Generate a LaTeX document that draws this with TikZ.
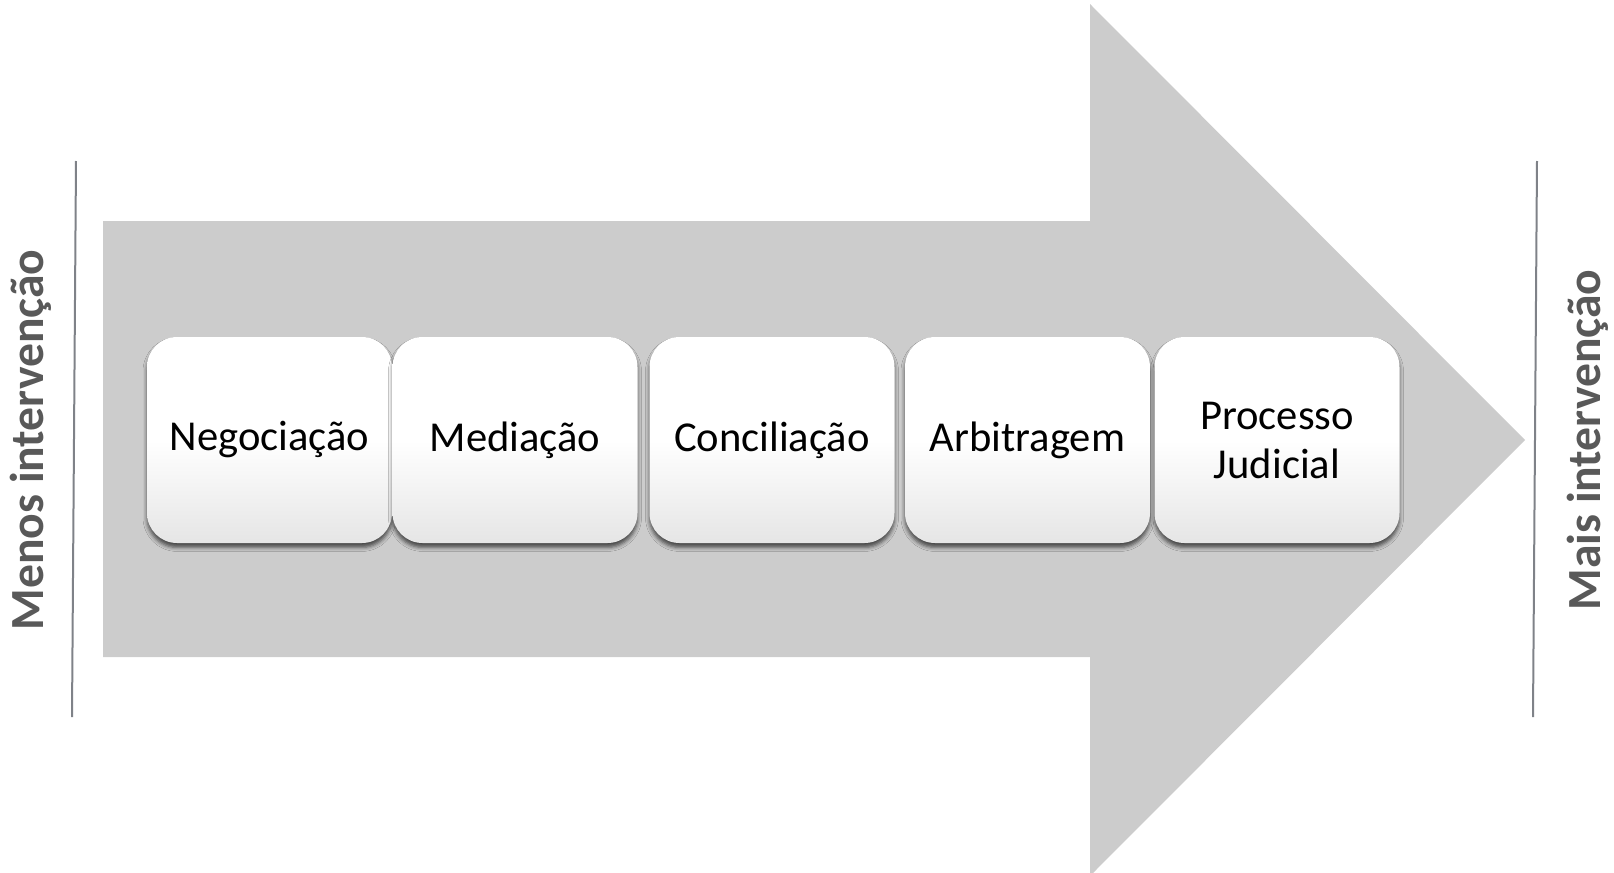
\documentclass[tikz,border=0pt]{standalone}
\usepackage{fontspec}
\setmainfont{Carlito}
\usetikzlibrary{shadows.blur}
\definecolor{arrowgray}{HTML}{CCCCCC}
\definecolor{textgray}{HTML}{595959}
\definecolor{linegray}{HTML}{7F8288}
\tikzset{
  stagebox/.style={rectangle, rounded corners=15pt, minimum width=122.5pt, minimum height=103pt,
    inner sep=0pt, align=center, top color=white, bottom color=black!10, middle color=white,
    font=\fontsize{21.3}{24.5}\selectfont, text=black,
    blur shadow={shadow xshift=0pt, shadow yshift=-2.2pt, shadow blur radius=2pt, shadow opacity=65}},
  sidelabel/.style={rotate=90, font=\fontsize{23.8}{28}\selectfont\bfseries, text=textgray, inner sep=0pt},
  sideline/.style={draw=linegray, line width=1pt}
}
\begin{document}
\begin{tikzpicture}[x=0.5pt, y=-0.5pt]
\useasboundingbox (0,0) rectangle (1614,873);
% big arrow
\fill[arrowgray] (103,221) -- (1090,221) -- (1090,4) -- (1525,440) -- (1090,876) -- (1090,657) -- (103,657) -- cycle;
% side lines
\coordinate (l1) at (76,161); \coordinate (l2) at (72,717);
\coordinate (r1) at (1537,161); \coordinate (r2) at (1533,717);
\draw[sideline] (l1) -- (l2);
\draw[sideline] (r1) -- (r2);
% side labels
\node[sidelabel] (menos) at (31,440) {Menos intervenção};
\node[sidelabel] (mais) at (1588,440) {Mais intervenção};
% boxes
\node[stagebox] (neg) at (269.5,440) {Negociação};
\node[stagebox] (med) at (515,440) {Mediação};
\node[stagebox] (con) at (772,440) {Conciliação};
\node[stagebox] (arb) at (1027.5,440) {Arbitragem};
\node[stagebox] (pro) at (1277,440) {Processo\\Judicial};
\end{tikzpicture}
\end{document}
